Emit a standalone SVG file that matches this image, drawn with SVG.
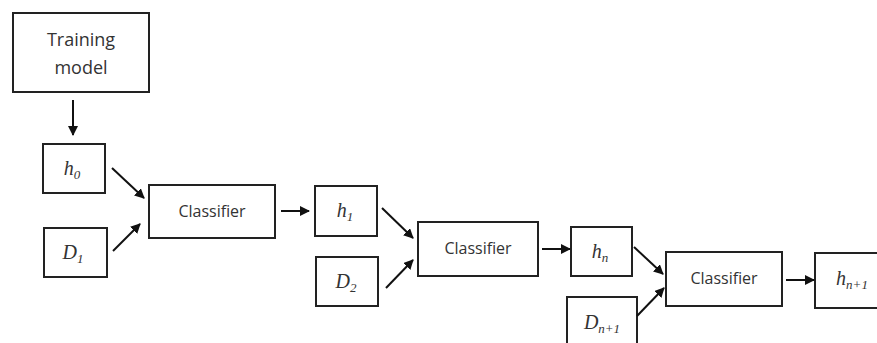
<svg xmlns="http://www.w3.org/2000/svg" width="877" height="343" viewBox="0 0 877 343">
<defs>
<marker id="ah" viewBox="0 0 10 10" refX="9" refY="5" markerWidth="5" markerHeight="5" markerUnits="strokeWidth" orient="auto">
<path d="M0,0 L10,5 L0,10 z" fill="#111"/>
</marker>
<style>
.box{fill:#fff;stroke:#222;stroke-width:2}
.t{font-family:"Open Sans","Liberation Sans",sans-serif;font-size:16px;fill:#333;text-anchor:middle}
.tm{font-size:18px}
.m{font-family:"Liberation Serif",serif;font-style:italic;font-size:20px;fill:#333;text-anchor:middle}
.s{font-size:13px}
.c line{stroke:#111;stroke-width:2;marker-end:url(#ah)}
</style>
</defs>
<rect width="877" height="343" fill="#fff"/>
<g id="training"><rect class="box" x="13" y="13" width="136" height="79"/><text class="t tm" x="81" y="46">Training</text><text class="t tm" x="81" y="74">model</text></g>
<g id="h0"><rect class="box" x="43" y="144" width="62" height="49"/><text class="m" x="72" y="175">h<tspan class="s" dy="4">0</tspan></text></g>
<g id="d1"><rect class="box" x="44" y="228" width="63" height="49"/><text class="m" x="73" y="259">D<tspan class="s" dy="4">1</tspan></text></g>
<g id="cls1"><rect class="box" x="149" y="185" width="126" height="53"/><text class="t" x="212" y="217">Classifier</text></g>
<g id="h1"><rect class="box" x="315" y="186" width="62" height="50"/><text class="m" x="345" y="217">h<tspan class="s" dy="4">1</tspan></text></g>
<g id="d2"><rect class="box" x="316" y="257" width="62" height="49"/><text class="m" x="346" y="288">D<tspan class="s" dy="4">2</tspan></text></g>
<g id="cls2"><rect class="box" x="418" y="222" width="120" height="54"/><text class="t" x="478" y="254">Classifier</text></g>
<g id="hn"><rect class="box" x="571" y="227" width="61" height="49"/><text class="m" x="600" y="258">h<tspan class="s" dy="4">n</tspan></text></g>
<g id="dn1"><rect class="box" x="567" y="297" width="70" height="60"/><text class="m" x="602" y="329">D<tspan class="s" dy="4">n+1</tspan></text></g>
<g id="cls3"><rect class="box" x="666" y="252" width="116" height="54"/><text class="t" x="724" y="284">Classifier</text></g>
<g id="hn1"><rect class="box" x="815" y="253" width="80" height="55"/><text class="m" x="852" y="285">h<tspan class="s" dy="4">n+1</tspan></text></g>
<g id="connectors" class="c">
<line x1="73" y1="100" x2="73" y2="135"/>
<line x1="112" y1="168" x2="144" y2="198"/>
<line x1="113" y1="251" x2="140" y2="224"/>
<line x1="281" y1="211" x2="309" y2="211"/>
<line x1="382" y1="208" x2="413" y2="238"/>
<line x1="386" y1="288" x2="413" y2="260"/>
<line x1="542" y1="249" x2="570" y2="249"/>
<line x1="634" y1="247" x2="663" y2="274"/>
<line x1="637" y1="316" x2="664" y2="288"/>
<line x1="786" y1="280" x2="814" y2="280"/>
</g>
</svg>
